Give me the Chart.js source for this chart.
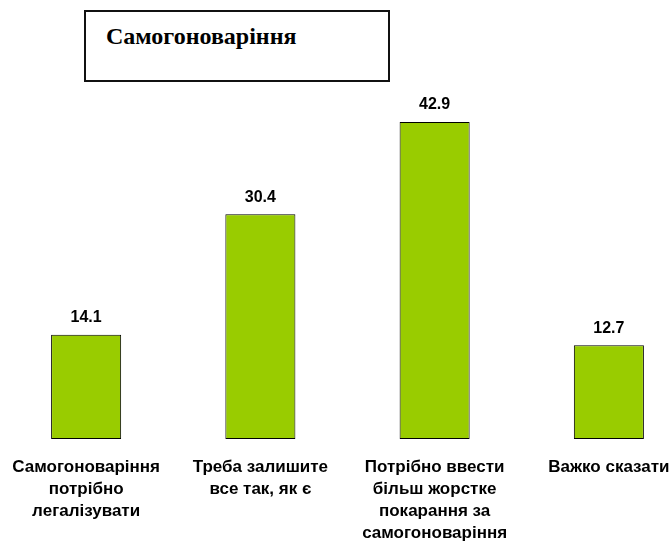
<!DOCTYPE html>
<html>
<head>
<meta charset="utf-8">
<script src="https://cdn.jsdelivr.net/npm/chart.js@4"></script>
<style>
    html, body { margin: 0; padding: 0; background: #fff; overflow: hidden; }
    #wrap { position: relative; width: 672px; height: 542px; overflow: hidden; }
    #holder { position: absolute; left: -1px; top: 0; width: 697px; height: 542px; }
    #titleBox {
        position: absolute; left: 84px; top: 10px; width: 302px; height: 68px;
        border: 2px solid #111; background: #fff;
        font: bold 24px "Liberation Serif", "Times New Roman", serif;
    }
    #titleBox span { position: absolute; left: 20px; top: 10px; line-height: 28px; }
</style>
</head>
<body>
<div id="wrap">
    <div id="holder"><canvas id="barChart" width="697" height="542"></canvas></div>
    <div id="titleBox"><span>Самогоноваріння</span></div>
</div>
<script>
// категорії та значення (%)
const categories = [
    ['Самогоноваріння', 'потрібно', 'легалізувати'],
    ['Треба залишите', 'все так, як є'],
    ['Потрібно ввести', 'більш жорстке', 'покарання за', 'самогоноваріння'],
    ['Важко сказати']
];
const values = [14.1, 30.4, 42.9, 12.7];

// підписи значень над стовпчиками
const valueLabels = {
    id: 'valueLabels',
    afterDatasetsDraw(chart) {
        const ctx = chart.ctx;
        const meta = chart.getDatasetMeta(0);
        ctx.save();
        ctx.font = 'bold 16px "Liberation Sans", Arial, sans-serif';
        ctx.fillStyle = '#000';
        ctx.textAlign = 'center';
        ctx.textBaseline = 'middle';
        meta.data.forEach((bar, i) => {
            ctx.fillText(values[i].toFixed(1), bar.x, bar.y - 17);
        });
        ctx.restore();
    }
};

const ctx = document.getElementById('barChart').getContext('2d');
new Chart(ctx, {
    type: 'bar',
    data: {
        labels: categories,
        datasets: [{
            data: values,
            backgroundColor: '#99CC00',
            borderColor: '#000',
            borderWidth: 1,
            borderSkipped: false,
            categoryPercentage: 1,
            barPercentage: 0.402
        }]
    },
    options: {
        responsive: false,
        animation: false,
        events: [],
        layout: { padding: { top: 69.5, left: 0, right: 0, bottom: 0 } },
        plugins: {
            legend: { display: false },
            tooltip: { enabled: false }
        },
        scales: {
            x: {
                grid: { display: false, drawTicks: false },
                border: { display: false },
                ticks: {
                    maxRotation: 0,
                    autoSkip: false,
                    padding: 17,
                    color: '#000',
                    font: { family: '"Liberation Sans", Arial, sans-serif', size: 17, weight: 'bold', lineHeight: 1.294 }
                },
                afterFit(scale) {
                    scale.height = 103;
                    scale.paddingLeft = 0;
                    scale.paddingRight = 0;
                }
            },
            y: {
                display: false,
                min: 0,
                max: 50
            }
        }
    },
    plugins: [valueLabels]
});
</script>
</body>
</html>
